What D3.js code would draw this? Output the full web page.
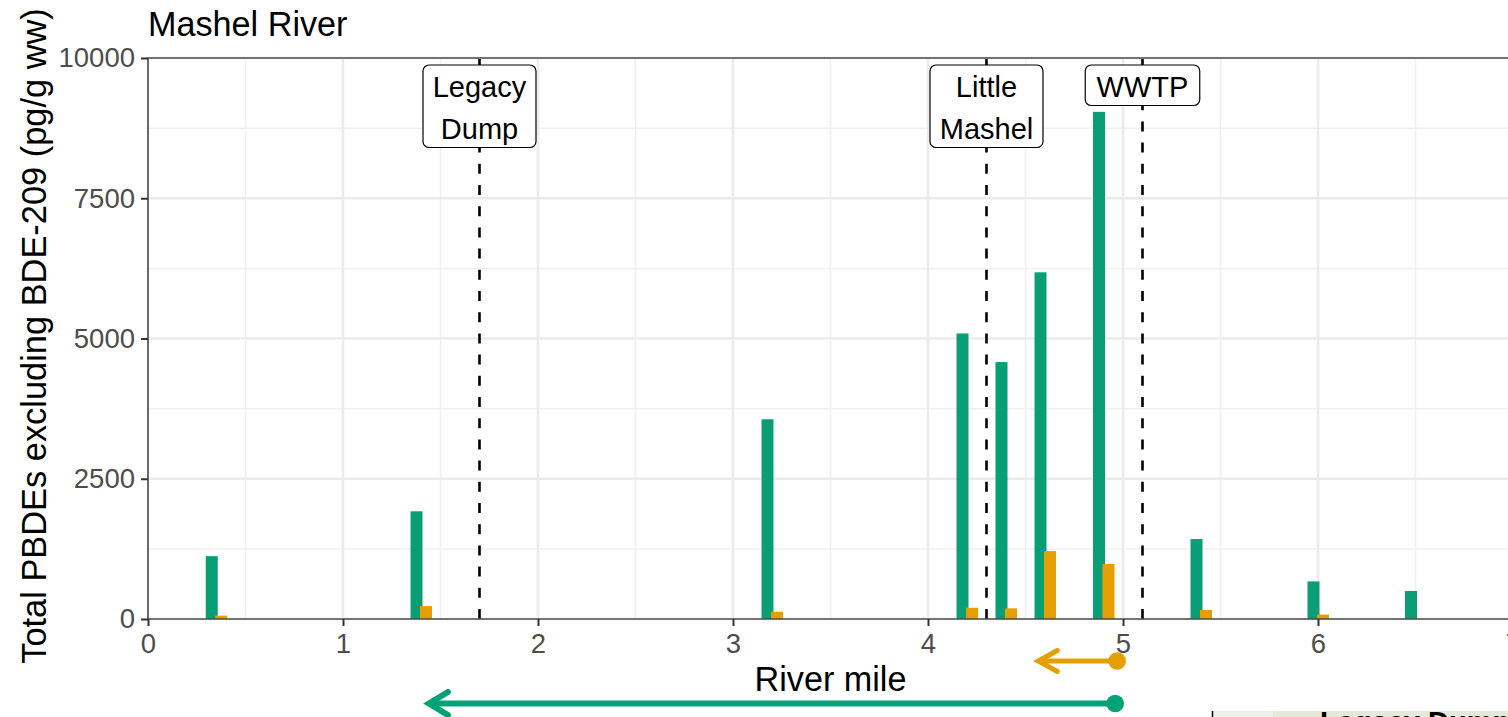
<!DOCTYPE html>
<html><head><meta charset="utf-8">
<style>html,body{margin:0;padding:0;background:#fff;overflow:hidden}svg{display:block}text{font-family:"Liberation Sans",Arial,sans-serif}</style>
<script src="https://cdn.jsdelivr.net/npm/d3@7"></script></head><body>
<svg id="c" width="1508" height="717"></svg>
<script>
const miles=[0.35,1.4,3.2,4.2,4.4,4.6,4.9,5.4,6.0,6.5];
const greenValues=[1120,1920,3560,5090,4580,6180,9040,1425,670,500];
const orangeValues=[60,230,130,200,190,1210,980,160,80,0];
const xTicks=[0,1,2,3,4,5,6,7];
const yTicks=[0,2500,5000,7500,10000];
const landmarks=[{name:["Legacy","Dump"],mile:1.7},{name:["Little","Mashel"],mile:4.3},{name:["WWTP"],mile:5.1}];
const GREEN="#0a9e76",ORANGE="#e69f00";
const svg=d3.select("#c");
const x=d3.scaleLinear().domain([0,7]).range([148,1513]);
const y=d3.scaleLinear().domain([0,10000]).range([619,58]);
// grid
const g=svg.append("g");
d3.range(0.5,7.5,1).forEach(v=>g.append("line").attr("x1",x(v)).attr("x2",x(v)).attr("y1",58).attr("y2",619).attr("stroke","#f0f0f0").attr("stroke-width",1.5));
d3.range(1250,10000,2500).forEach(v=>g.append("line").attr("x1",148).attr("x2",1508).attr("y1",y(v)).attr("y2",y(v)).attr("stroke","#f0f0f0").attr("stroke-width",1.5));
xTicks.forEach(v=>g.append("line").attr("x1",x(v)).attr("x2",x(v)).attr("y1",58).attr("y2",619).attr("stroke","#ebebeb").attr("stroke-width",2.5));
yTicks.forEach(v=>g.append("line").attr("x1",148).attr("x2",1508).attr("y1",y(v)).attr("y2",y(v)).attr("stroke","#ebebeb").attr("stroke-width",2.5));
// bars
const bw=12;
svg.append("g").selectAll("rect").data(miles).join("rect").attr("x",m=>x(m)-10.5).attr("width",bw)
 .attr("y",(m,i)=>y(greenValues[i])).attr("height",(m,i)=>y(0)-y(greenValues[i])).attr("fill",GREEN);
svg.append("g").selectAll("rect").data(miles).join("rect").attr("x",m=>x(m)-1).attr("width",bw)
 .attr("y",(m,i)=>y(orangeValues[i])).attr("height",(m,i)=>y(0)-y(orangeValues[i])).attr("fill",ORANGE);
// dashed lines, dashes counted up from the axis
landmarks.forEach(l=>svg.append("line").attr("x1",x(l.mile)).attr("x2",x(l.mile)).attr("y1",619).attr("y2",59).attr("stroke","#000").attr("stroke-width",2.6).attr("stroke-dasharray","10,11.2"));
// panel border + axes
svg.append("path").attr("d","M1508,58H148V619H1508").attr("fill","none").attr("stroke","#4d4d4d").attr("stroke-width",1.6);
const xAxis=svg.append("g").attr("transform","translate(0,619)").call(d3.axisBottom(x).tickValues(xTicks).tickFormat(d3.format("d")).tickSize(7).tickPadding(7));
const yAxis=svg.append("g").attr("transform","translate(148,0)").call(d3.axisLeft(y).tickValues(yTicks).tickFormat(d3.format("d")).tickSize(7).tickPadding(6));
[xAxis,yAxis].forEach(a=>{a.select(".domain").remove();a.selectAll("line").attr("stroke","#333").attr("stroke-width",2);a.selectAll("text").attr("fill","#4d4d4d").style("font-size","27.5px");});
// labels
landmarks.forEach(l=>{
 const cx=x(l.mile),n=l.name.length,w=l.name[0]==="WWTP"?114.5:113,h=n===2?82.5:40.5;
 svg.append("rect").attr("x",cx-w/2).attr("y",65).attr("width",w).attr("height",h).attr("rx",6).attr("fill","#fff").attr("stroke","#000").attr("stroke-width",1.2);
 l.name.forEach((t,i)=>svg.append("text").attr("x",cx).attr("y",97+i*41.5).attr("text-anchor","middle").attr("fill","#000").style("font-size","29px").text(t));
});
// titles
svg.append("text").attr("x",148).attr("y",36).attr("fill","#000").style("font-size","34.2px").text("Mashel River");
svg.append("text").attr("x",830.5).attr("y",691).attr("text-anchor","middle").attr("fill","#000").style("font-size","34.2px").text("River mile");
svg.append("text").attr("transform","translate(46,336) rotate(-90)").attr("text-anchor","middle").attr("fill","#000").style("font-size","34.4px").text("Total PBDEs excluding BDE-209 (pg/g ww)");
// extent arrows
const arrowRows=[{x1:4.97,x2:4.54,py:661,c:ORANGE,h:12.5,lw:5},{x1:4.96,x2:1.415,py:703.5,c:"#00a278",h:13.5,lw:6}];
arrowRows.forEach(a=>{
 const X1=x(a.x1),X2=x(a.x2);
 svg.append("line").attr("x1",X1).attr("x2",X2+6).attr("y1",a.py).attr("y2",a.py).attr("stroke",a.c).attr("stroke-width",a.lw);
 svg.append("path").attr("d",`M${X2+24},${a.py-a.h+2}L${X2+5},${a.py}L${X2+24},${a.py+a.h-2}`).attr("fill","none").attr("stroke",a.c).attr("stroke-width",a.lw).attr("stroke-linecap","round");
 svg.append("circle").attr("cx",X1).attr("cy",a.py).attr("r",8.8).attr("fill",a.c);
});
// corner of the adjoining map panel, cut off by the picture's lower edge
const mapCorner=svg.append("g");
mapCorner.append("rect").attr("x",1213).attr("y",711).attr("width",295).attr("height",6).attr("fill","#e4ead6");
mapCorner.append("rect").attr("x",1213).attr("y",711).attr("width",60).attr("height",6).attr("fill","#f0f0ea");
mapCorner.append("line").attr("x1",1212.5).attr("x2",1212.5).attr("y1",711).attr("y2",717).attr("stroke","#000").attr("stroke-width",1.5);
mapCorner.append("text").attr("x",1320).attr("y",732).attr("fill","#000").style("font-size","29px").style("font-weight","bold").text("Legacy Dump");
</script></body></html>
